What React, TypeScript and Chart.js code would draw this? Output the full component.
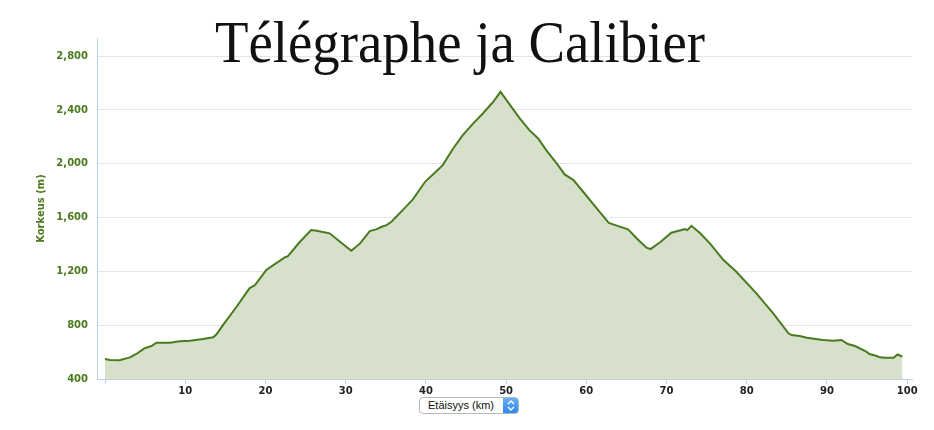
import React, { useEffect, useRef } from "react";
import { Chart, registerables } from "chart.js";

Chart.register(...registerables);

const chartTitle = "Télégraphe ja Calibier";
const yAxisTitle = "Korkeus (m)";
const xAxisSelectLabel = "Etäisyys (km)";

// distance along the route (km)
const distanceKm = [
  0, 0.6, 1.8, 3.1, 3.9, 4.9, 5.8, 6.4, 8.1, 9.3, 10.6, 12.2, 13.5, 13.9, 14.7,
  16.4, 18.0, 18.7, 20.1, 22.4, 22.8, 24.3, 25.7, 26.4, 27.0, 28.0, 29.3, 30.7,
  31.8, 33.0, 33.8, 34.5, 35.1, 35.7, 37.2, 38.4, 39.9, 41.7, 42.1, 43.4, 44.6,
  45.9, 47.1, 48.2, 48.4, 49.3, 50.5, 51.7, 52.9, 54.0, 55.0, 56.3, 57.3, 58.4,
  59.6, 61.3, 62.8, 63.8, 65.2, 66.3, 67.5, 68.0, 69.2, 70.6, 71.4, 72.3, 72.6,
  73.1, 74.2, 75.4, 77.1, 78.7, 81.2, 83.3, 85.2, 85.6, 86.6, 87.5, 89.5, 90.8,
  91.8, 92.6, 93.5, 94.9, 95.3, 96.2, 96.6, 97.2, 98.3, 98.8, 99.4,
];

// elevation (m)
const elevationM = [
  549, 541, 539, 561, 586, 628, 645, 670, 670, 680, 685, 697, 710, 732, 801,
  937, 1074, 1098, 1210, 1304, 1314, 1420, 1507, 1502, 1494, 1483, 1420, 1353,
  1408, 1500, 1512, 1532, 1544, 1569, 1661, 1737, 1866, 1966, 1990, 2114, 2213,
  2300, 2374, 2448, 2460, 2535, 2436, 2337, 2250, 2188, 2101, 2003, 1921, 1879,
  1792, 1668, 1561, 1540, 1512, 1445, 1376, 1366, 1416, 1487, 1500, 1515, 1507,
  1539, 1483, 1408, 1284, 1197, 1037, 888, 740, 727, 719, 707, 690, 685,
  690, 660, 645, 603, 586, 571, 561, 558, 558, 582, 566,
];

const yTickValues = [400, 800, 1200, 1600, 2000, 2400, 2800];
const xTickValues = [0, 10, 20, 30, 40, 50, 60, 70, 80, 90, 100];

const yMin = 400;
const yMax = 2935;
const xMin = -1;
const xMax = 100.6;

const lineColor = "#4a7a1e";
const fillColor = "#d6e0cb";
const yLabelColor = "#4b7a1d";

const titlePlugin = {
  id: "bigTitle",
  afterDraw(chart: any) {
    const ctx = chart.ctx;
    ctx.save();
    ctx.font = '60px "Liberation Serif", "DejaVu Serif", serif';
    ctx.fillStyle = "#111";
    ctx.textAlign = "center";
    ctx.textBaseline = "alphabetic";
    ctx.fillText(chartTitle, 460, 62, 490);
    ctx.restore();
  },
};

export default function App() {
  const canvasRef = useRef<HTMLCanvasElement | null>(null);

  useEffect(() => {
    if (!canvasRef.current) return;
    const points = distanceKm.map((d, i) => ({ x: d, y: elevationM[i] }));
    const chart = new Chart(canvasRef.current, {
      type: "line",
      data: {
        datasets: [
          {
            data: points,
            borderColor: lineColor,
            backgroundColor: fillColor,
            borderWidth: 2,
            fill: "start",
            pointRadius: 0,
            tension: 0,
          },
        ],
      },
      options: {
        animation: false,
        responsive: false,
        maintainAspectRatio: false,
        layout: { padding: { left: 0, top: 38, right: 22, bottom: 31 } },
        plugins: {
          legend: { display: false },
          tooltip: { enabled: false },
          title: { display: false },
        },
        scales: {
          x: {
            type: "linear",
            min: xMin,
            max: xMax,
            afterBuildTicks: (s: any) => {
              s.ticks = xTickValues.map((v) => ({ value: v }));
            },
            ticks: {
              color: "#222",
              font: { family: '"DejaVu Sans", Verdana, sans-serif', weight: "bold", size: 10 },
              padding: 1,
              maxRotation: 0,
              autoSkip: false,
              callback: (v: any) => (Number(v) === 0 ? "" : String(v)),
            },
            grid: {
              drawOnChartArea: false,
              drawTicks: true,
              tickLength: 5,
              color: "#c0d0e0",
            },
            border: { display: true, color: "#c0d0e0" },
            afterFit: (s: any) => {
              s.height = 20;
            },
          },
          y: {
            type: "linear",
            min: yMin,
            max: yMax,
            afterBuildTicks: (s: any) => {
              s.ticks = yTickValues.map((v) => ({ value: v }));
            },
            ticks: {
              color: yLabelColor,
              font: { family: '"DejaVu Sans", Verdana, sans-serif', weight: "bold", size: 10 },
              padding: 9,
              autoSkip: false,
              callback: (v: any) => Number(v).toLocaleString("en-US"),
            },
            grid: { color: "#e6e6e6", drawTicks: false, tickLength: 0 },
            border: { display: true, color: "#c0d0e0" },
            title: {
              display: true,
              text: yAxisTitle,
              color: yLabelColor,
              font: { family: '"DejaVu Sans", Verdana, sans-serif', weight: "bold", size: 10 },
              padding: { top: 35, bottom: 0 },
            },
            afterFit: (s: any) => {
              s.width = 97;
            },
          },
        },
      },
      plugins: [titlePlugin],
    } as any);
    return () => chart.destroy();
  }, []);

  return (
    <div style={{ position: "absolute", left: 0, top: 0, width: 934, height: 430, background: "#fff" }}>
      <canvas ref={canvasRef} width={934} height={430} style={{ display: "block" }} />
      <div
        style={{
          position: "absolute",
          left: 419,
          top: 397,
          width: 100,
          height: 17,
          boxSizing: "border-box",
          border: "1px solid #b8b8b8",
          borderRadius: 4,
          background: "#fff",
          font: '11px "Liberation Sans", Arial, sans-serif',
          color: "#111",
          lineHeight: "15px",
          paddingLeft: 8,
          overflow: "hidden",
          whiteSpace: "nowrap",
        }}
      >
        {xAxisSelectLabel}
        <div
          style={{
            position: "absolute",
            right: -1,
            top: -1,
            width: 16,
            height: 17,
            borderRadius: "0 4px 4px 0",
            background: "linear-gradient(#6cb2f7, #2a84ef)",
          }}
        >
          <svg width="16" height="17" viewBox="0 0 16 17">
            <path d="M5 7 L8 4 L11 7" fill="none" stroke="#fff" strokeWidth="1.4" />
            <path d="M5 10 L8 13 L11 10" fill="none" stroke="#fff" strokeWidth="1.4" />
          </svg>
        </div>
      </div>
    </div>
  );
}
